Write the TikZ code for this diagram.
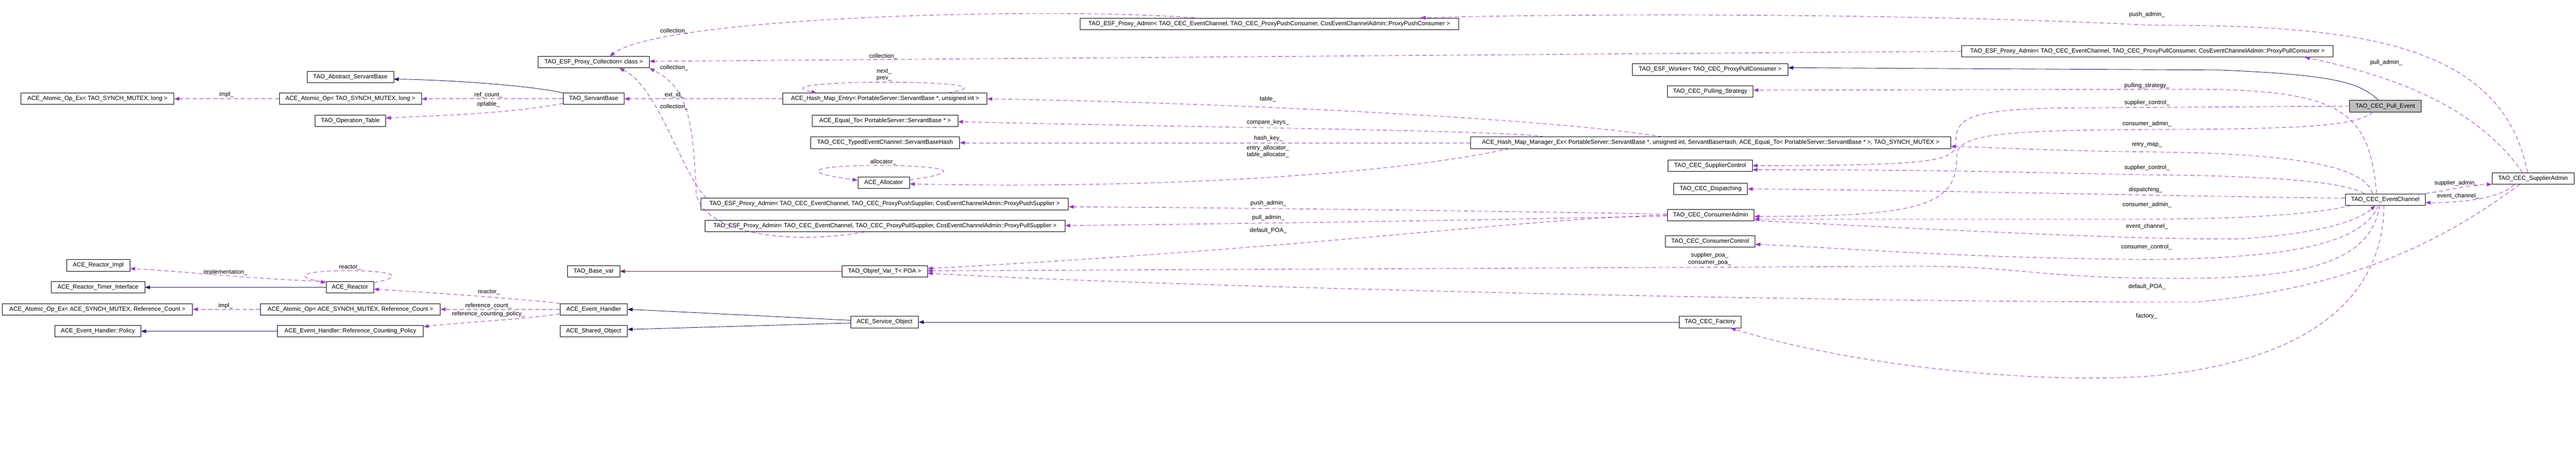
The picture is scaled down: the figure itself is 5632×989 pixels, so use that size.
\documentclass[tikz,border=0pt]{standalone}
\usepackage{fontspec}
\setmainfont{Liberation Sans}
\usetikzlibrary{arrows.meta}
\definecolor{usecol}{HTML}{9A32CD}
\definecolor{inhcol}{HTML}{191970}
\definecolor{privcol}{HTML}{8B1A1A}
\definecolor{rootgray}{HTML}{BFBFBF}
\newcommand{\arwhead}{-{Triangle[length=11pt,width=8pt]}}
\tikzset{
  cls/.style={draw,line width=1pt,minimum width=#1pt,minimum height=25pt,inner sep=0pt,fill=white},
  rootcls/.style={cls=#1,fill=rootgray},
  lbl/.style={inner sep=0pt,align=center},
  uses/.style={draw=usecol,line width=1pt,dash pattern=on 9pt off 6pt},
  inh/.style={draw=inhcol,line width=1pt},
  priv/.style={draw=privcol,line width=1pt}
}

\begin{document}
\begin{tikzpicture}[x=1pt,y=-1pt,font=\fontsize{13}{15}\selectfont]
\useasboundingbox (0,0) rectangle (5632,989);
%classes
\node[cls=189] (abssb) at (766,168) {TAO\_Abstract\_ServantBase};
\node[cls=335] (atomexl) at (213,216) {ACE\_Atomic\_Op\_Ex< TAO\_SYNCH\_MUTEX, long >};
\node[cls=311] (atoml) at (766,216) {ACE\_Atomic\_Op< TAO\_SYNCH\_MUTEX, long >};
\node[cls=154] (optab) at (766,264) {TAO\_Operation\_Table};
\node[cls=138] (rimpl) at (215,580) {ACE\_Reactor\_Impl};
\node[cls=205] (rtimer) at (214,628) {ACE\_Reactor\_Timer\_Interface};
\node[cls=104] (reactor) at (765,628) {ACE\_Reactor};
\node[cls=416] (atomexrc) at (213,676) {ACE\_Atomic\_Op\_Ex< ACE\_SYNCH\_MUTEX, Reference\_Count >};
\node[cls=393] (atomrc) at (766,676) {ACE\_Atomic\_Op< ACE\_SYNCH\_MUTEX, Reference\_Count >};
\node[cls=188] (ehpol) at (214,724) {ACE\_Event\_Handler::Policy};
\node[cls=319] (ehrcpol) at (766,724) {ACE\_Event\_Handler::Reference\_Counting\_Policy};
\node[cls=243] (coll) at (1298,136) {TAO\_ESF\_Proxy\_Collection< class >};
\node[cls=133] (sb) at (1298,216) {TAO\_ServantBase};
\node[cls=114] (basevar) at (1298,593) {TAO\_Base\_var};
\node[cls=147] (evh) at (1298,676) {ACE\_Event\_Handler};
\node[cls=147] (shobj) at (1298,724) {ACE\_Shared\_Object};
\node[cls=828] (pushcadm) at (2775,52) {TAO\_ESF\_Proxy\_Admin< TAO\_CEC\_EventChannel, TAO\_CEC\_ProxyPushConsumer, CosEventChannelAdmin::ProxyPushConsumer >};
\node[cls=446] (entry) at (1935,216) {ACE\_Hash\_Map\_Entry< PortableServer::ServantBase *, unsigned int >};
\node[cls=318] (eqto) at (1935,264) {ACE\_Equal\_To< PortableServer::ServantBase * >};
\node[cls=326] (sbhash) at (1935,312) {TAO\_CEC\_TypedEventChannel::ServantBaseHash};
\node[cls=113] (alloc) at (1932,399) {ACE\_Allocator};
\node[cls=804] (pushsadm) at (1934,446) {TAO\_ESF\_Proxy\_Admin< TAO\_CEC\_EventChannel, TAO\_CEC\_ProxyPushSupplier, CosEventChannelAdmin::ProxyPushSupplier >};
\node[cls=787] (pullsadm) at (1935,494) {TAO\_ESF\_Proxy\_Admin< TAO\_CEC\_EventChannel, TAO\_CEC\_ProxyPullSupplier, CosEventChannelAdmin::ProxyPullSupplier >};
\node[cls=187] (objref) at (1934,593) {TAO\_Objref\_Var\_T< POA >};
\node[cls=148] (svcobj) at (1934,704) {ACE\_Service\_Object};
\node[cls=340] (worker) at (3739,152) {TAO\_ESF\_Worker< TAO\_CEC\_ProxyPullConsumer >};
\node[cls=188] (pullstrat) at (3739,200) {TAO\_CEC\_Pulling\_Strategy};
\node[cls=1049] (hmm) at (3740,312) {ACE\_Hash\_Map\_Manager\_Ex< PortableServer::ServantBase *, unsigned int, ServantBaseHash, ACE\_Equal\_To< PortableServer::ServantBase * >, TAO\_SYNCH\_MUTEX >};
\node[cls=184] (supctl) at (3739,362) {TAO\_CEC\_SupplierControl};
\node[cls=161] (disp) at (3740,413) {TAO\_CEC\_Dispatching};
\node[cls=190] (cadmin) at (3740,470) {TAO\_CEC\_ConsumerAdmin};
\node[cls=196] (cctl) at (3739,528) {TAO\_CEC\_ConsumerControl};
\node[cls=136] (factory) at (3739,704) {TAO\_CEC\_Factory};
\node[cls=812] (pullcadm) at (4695,112) {TAO\_ESF\_Proxy\_Admin< TAO\_CEC\_EventChannel, TAO\_CEC\_ProxyPullConsumer, CosEventChannelAdmin::ProxyPullConsumer >};
\node[rootcls=156] (pullev) at (5215,232) {TAO\_CEC\_Pull\_Event};
\node[cls=175] (ec) at (5215,436) {TAO\_CEC\_EventChannel};
\node[cls=179] (sadmin) at (5538,390) {TAO\_CEC\_SupplierAdmin};
%inheritance
\draw[inh,\arwhead] (sb.north west) .. controls (1150,185) and (960,174) .. ([yshift=-5]abssb.east);
\draw[inh,\arwhead] (reactor.west) -- (rtimer.east);
\draw[inh,\arwhead] (ehrcpol.west) -- (ehpol.east);
\draw[priv,\arwhead] (objref.west) -- (basevar.east);
\draw[inh,\arwhead] ([yshift=4]svcobj.west) -- (evh.east);
\draw[inh,\arwhead] ([yshift=-2]svcobj.west) -- ([yshift=4]shobj.east);
\draw[inh,\arwhead] (factory.west) -- (svcobj.east);
\draw[inh,\arwhead] ([xshift=-15]pullev.north) .. controls (5160,180) and (5100,163) .. (4850,153) -- ([yshift=4]worker.east);
%members, left part
\draw[uses,\arwhead] (atoml.west) -- (atomexl.east);
\draw[uses,\arwhead] (sb.west) -- (atoml.east);
\draw[uses,\arwhead] ([yshift=-10]sb.west) .. controls (1100,250) and (960,252) .. ([yshift=6]optab.east);
\draw[uses,\arwhead] (entry.west) -- (sb.east);
\draw[uses,\arwhead] (evh.north west) .. controls (1100,650) and (950,640) .. ([yshift=-4]reactor.east);
\draw[uses,\arwhead] (evh.west) -- (atomrc.east);
\draw[uses,\arwhead] ([yshift=-10]evh.west) .. controls (1150,698) and (1000,705) .. ([yshift=10]ehrcpol.east);
\draw[uses,\arwhead] (reactor.north west) .. controls (550,610) and (400,593) .. ([yshift=-7]rimpl.east);
\draw[uses,\arwhead] ([yshift=10]reactor.east) .. controls (990,583) and (540,583) .. ([yshift=10]reactor.west);
\draw[uses,\arwhead] (atomrc.west) -- (atomexrc.east);
%collection_
\draw[uses,\arwhead] ([xshift=-164]pushcadm.north) .. controls (2300,15) and (1450,35) .. ([xshift=35]coll.north);
\draw[uses,\arwhead] (pullcadm.west) -- ([yshift=2]coll.east);
\draw[uses,\arwhead] ([xshift=13]pushsadm.north west) .. controls (1490,380) and (1440,190) .. ([xshift=56]coll.south);
\draw[uses,\arwhead] ([xshift=-44]pullsadm.south) .. controls (1700,540) and (1530,500) .. (1522,420) .. controls (1515,250) and (1500,190) .. (coll.south east);
%hash map
\draw[uses,\arwhead] ([xshift=138]entry.north) .. controls (2260,172) and (1640,172) .. ([xshift=-150]entry.north);
\draw[uses,\arwhead] ([yshift=6]alloc.east) .. controls (2290,352) and (1560,350) .. ([yshift=5]alloc.west);
\draw[uses,\arwhead] ([xshift=-105]hmm.north) .. controls (3400,260) and (2700,225) .. (entry.east);
\draw[uses,\arwhead] ([xshift=-363]hmm.north) .. controls (3300,285) and (2600,278) .. ([yshift=-2]eqto.east);
\draw[uses,\arwhead] (hmm.west) -- (sbhash.east);
\draw[uses,\arwhead] ([xshift=-440]hmm.south) .. controls (3000,390) and (2450,412) .. ([yshift=-3]alloc.east);
%consumer admin
\draw[uses,\arwhead] ([yshift=2]cadmin.west) .. controls (3300,462) and (2800,455) .. ([yshift=-6]pushsadm.east);
\draw[uses,\arwhead] ([yshift=-2]cadmin.west) .. controls (3300,480) and (2800,488) .. ([yshift=1]pullsadm.east);
\draw[uses,\arwhead] (cadmin.west) .. controls (3300,480) and (2900,540) .. ([yshift=6]objref.east);
\draw[uses,\arwhead] ([yshift=-12]cadmin.east) .. controls (4300,505) and (4700,525) .. (4900,522) .. controls (5080,510) and (5160,480) .. ([xshift=-22]ec.south);
%event channel
\draw[uses,\arwhead] ([xshift=-12]ec.south) .. controls (5180,590) and (5000,612) .. (4700,608) .. controls (4450,605) and (4400,582) .. (4200,582) -- ([yshift=1]objref.east);
\draw[uses,\arwhead] ([xshift=-3]ec.south) .. controls (5210,650) and (5050,790) .. (4700,822) .. controls (4450,840) and (4050,800) .. ([xshift=45]factory.south);
\draw[uses,\arwhead] ([xshift=-19]ec.north) .. controls (5180,250) and (5130,196) .. (4800,195) -- ([yshift=3]pullstrat.east);
\draw[uses,\arwhead] ([xshift=-28]ec.north) .. controls (5170,360) and (5000,335) .. (4700,332) .. controls (4500,330) and (4350,322) .. ([yshift=-8]hmm.east);
\draw[uses,\arwhead] ([xshift=-46]ec.north) .. controls (5130,400) and (5000,385) .. (4700,382) .. controls (4450,378) and (4300,371) .. ([yshift=-9]supctl.east);
\draw[uses,\arwhead] ([yshift=3]ec.west) .. controls (4800,430) and (4200,415) .. (disp.east);
\draw[uses,\arwhead] ([xshift=-74]ec.south) .. controls (5050,470) and (4900,478) .. (4700,479) -- ([yshift=-9]cadmin.east);
\draw[uses,\arwhead] ([xshift=-15]ec.south) .. controls (5170,520) and (5050,565) .. (4700,567) .. controls (4300,565) and (4000,540) .. ([yshift=-6]cctl.east);
\draw[uses,\arwhead] (ec.north east) .. controls (5360,415) and (5400,403) .. (sadmin.south west);
%pull event
\draw[uses,\arwhead] (pullev.west) -- (4500,236) .. controls (4300,240) and (4276,260) .. (4276,310) .. controls (4276,350) and (4250,362) .. (supctl.east);
\draw[uses,\arwhead] ([xshift=-27]pullev.south) .. controls (5150,275) and (5050,282) .. (4700,283) .. controls (4400,285) and (4278,290) .. (4278,340) .. controls (4280,450) and (4200,473) .. ([yshift=-3]cadmin.east);
%supplier admin
\draw[uses,\arwhead] ([xshift=-41]sadmin.south) .. controls (5470,430) and (5400,443) .. ([yshift=-7]ec.east);
\draw[uses,\arwhead] ([xshift=-29]sadmin.south) .. controls (5350,520) and (5150,630) .. (4800,660) .. controls (4000,662) and (2500,625) .. ([yshift=-4]objref.east);
\draw[uses,\arwhead] ([xshift=-12]sadmin.north) .. controls (5470,90) and (5150,55) .. (4700,55) .. controls (4200,30) and (3500,28) .. ([xshift=-84]pushcadm.north east);
\draw[uses,\arwhead] ([xshift=-23]sadmin.north) .. controls (5420,240) and (5250,170) .. ([xshift=344]pullcadm.south);
%labels
\node[lbl] (limpla) at (495,207) {impl\_};
\node[lbl] (lrefc) at (1068,208) {ref\_count\_};
\node[lbl] (lopt) at (1068,228) {optable\_};
\node[lbl] (lext) at (1474,208) {ext\_id\_};
\node[lbl] (lcolla) at (1474,68) {collection\_};
\node[lbl] (lcollb) at (1931,123) {collection\_};
\node[lbl] (lcollc) at (1474,148) {collection\_};
\node[lbl] (lcolld) at (1474,234) {collection\_};
\node[lbl] (lnext) at (1933,164) {next\_\\prev\_};
\node[lbl] (lalloc) at (1931,354) {allocator\_};
\node[lbl] (ltable) at (2772,217) {table\_};
\node[lbl] (lcmp) at (2772,268) {compare\_keys\_};
\node[lbl] (lhash) at (2773,303) {hash\_key\_};
\node[lbl] (lentall) at (2772,331) {entry\_allocator\_\\table\_allocator\_};
\node[lbl] (lpushs) at (2773,444) {push\_admin\_};
\node[lbl] (lpulls) at (2773,476) {pull\_admin\_};
\node[lbl] (ldpoaa) at (2773,504) {default\_POA\_};
\node[lbl] (lpoa) at (3738,566) {supplier\_poa\_\\consumer\_poa\_};
\node[lbl] (lpushc) at (4694,32) {push\_admin\_};
\node[lbl] (lpullc) at (5217,137) {pull\_admin\_};
\node[lbl] (lpstrat) at (4694,187) {pulling\_strategy\_};
\node[lbl] (lsctla) at (4694,225) {supplier\_control\_};
\node[lbl] (lcadma) at (4694,271) {consumer\_admin\_};
\node[lbl] (lretry) at (4694,317) {retry\_map\_};
\node[lbl] (lsctlb) at (4694,367) {supplier\_control\_};
\node[lbl] (ldisp) at (4691,415) {dispatching\_};
\node[lbl] (lcadmb) at (4694,448) {consumer\_admin\_};
\node[lbl] (leca) at (4694,495) {event\_channel\_};
\node[lbl] (lcctl) at (4693,540) {consumer\_control\_};
\node[lbl] (ldpoab) at (4694,627) {default\_POA\_};
\node[lbl] (lfact) at (4693,691) {factory\_};
\node[lbl] (lsadm) at (5370,401) {supplier\_admin\_};
\node[lbl] (lecb) at (5374,429) {event\_channel\_};
\node[lbl] (lreacta) at (765,584) {reactor\_};
\node[lbl] (limplr) at (493,595) {implementation\_};
\node[lbl] (limplb) at (493,668) {impl\_};
\node[lbl] (lreactb) at (1069,639) {reactor\_};
\node[lbl] (lrefcnt) at (1068,668) {reference\_count\_};
\node[lbl] (lrcpol) at (1068,687) {reference\_counting\_policy\_};
\end{tikzpicture}
\end{document}
